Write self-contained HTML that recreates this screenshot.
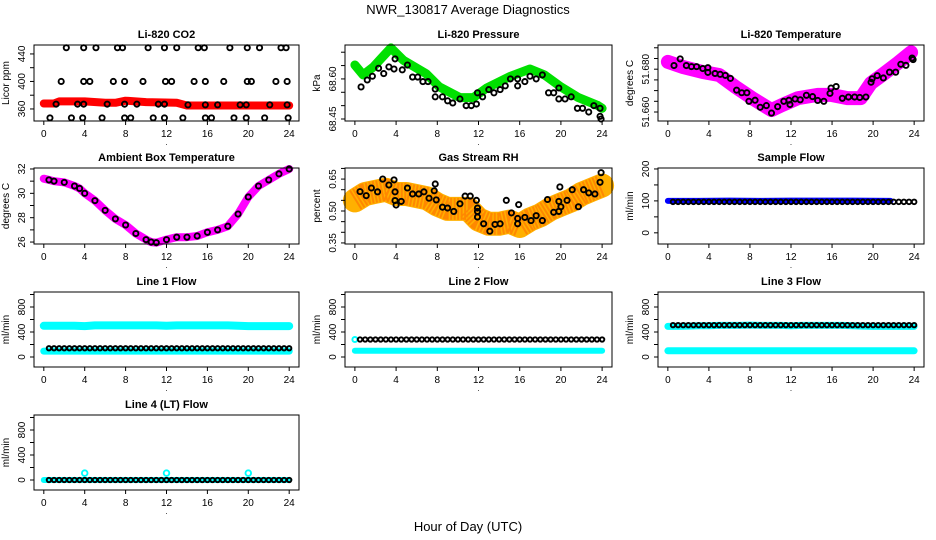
<!DOCTYPE html>
<html><head><meta charset="utf-8"><style>
html,body{margin:0;padding:0;background:#fff}
svg{display:block;font-family:"Liberation Sans",Arial,sans-serif}
</style></head><body>
<svg id="chart" width="936" height="540" xmlns="http://www.w3.org/2000/svg">
<rect width="936" height="540" fill="#fff"/>
<text x="468" y="14" font-size="13" text-anchor="middle">NWR_130817  Average Diagnostics</text>
<text x="468" y="531" font-size="13" text-anchor="middle">Hour of Day (UTC)</text>
</svg>
<script>
// ---- data ----
const co2BandHours=[0,1,1.5,4,6,7,8,10,13,14,16,20,24];
const co2BandVals=[368,368,371,371,369,369,372,370,369,365,365,365,365];
const co2PtHours=[2.2,3.9,5.1,7.2,7.7,10.2,11.8,13,15.1,15.7,18.2,19.9,21.1,23.2,23.7,1.7,3.9,4.5,6.8,7.9,9.7,11.9,12.5,14.7,15.8,17.6,19.9,20.3,22.7,23.8,1.2,3.3,3.9,6.2,7.9,9.1,11.2,11.8,14.1,15.8,17.0,19.2,19.8,22.1,23.8,0.6,2.7,3.8,5.7,7.9,8.5,10.7,11.8,13.6,15.8,16.4,18.6,19.8,21.6,23.9];
const co2PtVals=[449,449,449,449,449,449,449,449,449,449,449,449,449,449,449,400,400,400,400,400,400,400,400,400,400,400,400,400,400,400,367,367,367,367,367,367,367,367,366,366,366,366,366,366,366,347,347,347,347,347,347,347,347,347,347,347,347,347,347,347];

const presBandHours=[0,0.8,1.8,3.5,4.7,6.9,8.2,10.2,11.5,12.8,15.1,17,18.4,20,21.7,23.6,24];
const presBandVals=[68.652,68.615,68.645,68.716,68.67,68.62,68.57,68.53,68.53,68.566,68.61,68.637,68.615,68.57,68.53,68.5,68.49];
const presPtHours=[0.6,1.2,1.7,2.3,2.8,3.3,3.8,3.9,4.6,5.1,5.6,6.1,6.6,7.1,7.8,7.8,8.5,9.0,9.5,10.2,10.8,11.3,11.8,11.9,12.4,13.0,13.5,14.1,14.6,15.1,15.8,15.8,16.5,17.0,17.6,18.2,18.8,19.3,19.8,19.8,20.4,21.0,21.6,22.1,22.7,23.2,23.8,23.8,23.9];
const presPtVals=[68.57,68.596,68.61,68.64,68.62,68.645,68.637,68.675,68.634,68.652,68.607,68.607,68.59,68.59,68.562,68.533,68.533,68.518,68.51,68.525,68.5,68.5,68.506,68.548,68.533,68.56,68.548,68.56,68.574,68.6,68.6,68.574,68.59,68.61,68.6,68.615,68.548,68.548,68.566,68.525,68.525,68.533,68.49,68.49,68.476,68.5,68.49,68.46,68.45];

const tempBandHours=[0,1.5,3.4,5,6.6,8.2,10.1,11.1,12.7,14.6,15.9,17.5,18.8,19.8,21.1,22.4,23.7];
const tempBandVals=[51.6834,51.681,51.6787,51.6773,51.6717,51.6665,51.6609,51.6632,51.6665,51.668,51.668,51.6665,51.6665,51.6735,51.6781,51.6828,51.6879];
const tempPtHours=[0.6,1.2,1.8,2.3,2.8,3.4,3.9,3.9,4.6,5.1,5.6,6.1,6.7,7.2,7.7,7.9,8.5,9.0,9.6,10.1,10.7,11.3,11.8,11.9,12.4,12.9,13.5,14.1,14.6,15.2,15.8,15.9,16.4,17.0,17.6,18.2,18.7,19.3,19.8,19.9,20.4,21.0,21.6,22.2,22.7,23.2,23.8,23.9];
const tempPtVals=[51.6817,51.6848,51.6817,51.6812,51.6812,51.6803,51.6807,51.6785,51.6780,51.6776,51.6771,51.6757,51.6702,51.6690,51.6690,51.6650,51.6655,51.6622,51.6630,51.6595,51.6625,51.6650,51.6655,51.6635,51.6661,51.6657,51.6678,51.6672,51.6654,51.6650,51.6687,51.6712,51.6719,51.6664,51.6670,51.6670,51.6668,51.6670,51.6739,51.6755,51.6770,51.6759,51.6786,51.6786,51.6823,51.6818,51.6852,51.6845];

const ambHours=[0,0.5,1,2,3,3.5,4,5,6,7,8,9,10,10.5,11,12,13,14,15,16,17,18,19,20,21,22,23,24];
const ambVals=[31.2,31.1,31.0,30.9,30.6,30.4,30.0,29.4,28.6,27.9,27.4,26.7,26.2,26.0,25.95,26.2,26.4,26.4,26.5,26.8,27.0,27.3,28.3,29.7,30.6,31.1,31.6,32.0];

const rhBandHours=[0,1,2,3,4,5,6,7,8,9,10,11,12,13,14,15,16,17,18,19,20,21,22,23,24];
const rhBandVals=[0.55,0.58,0.59,0.6,0.58,0.58,0.57,0.56,0.53,0.51,0.51,0.51,0.46,0.44,0.44,0.45,0.43,0.46,0.48,0.51,0.53,0.55,0.58,0.6,0.62];
const rhPtHours=[0.5,1.1,1.6,2.2,2.7,3.3,3.8,3.9,3.9,4.0,4.5,5.1,5.6,6.2,6.7,7.2,7.8,7.7,7.9,8.5,9.0,9.6,10.2,10.7,11.2,11.8,11.9,11.9,11.9,12.5,13.1,13.6,14.1,14.7,15.2,15.8,15.8,15.9,16.5,17.1,17.6,18.2,18.7,19.3,19.8,19.9,20.0,19.8,20.6,21.1,21.7,22.2,22.7,23.3,23.8,23.9];
const rhPtVals=[0.591,0.572,0.608,0.59,0.65,0.622,0.646,0.59,0.549,0.528,0.545,0.608,0.58,0.58,0.59,0.56,0.627,0.595,0.552,0.518,0.514,0.498,0.534,0.57,0.57,0.55,0.514,0.498,0.472,0.44,0.405,0.437,0.44,0.55,0.491,0.465,0.44,0.53,0.47,0.455,0.478,0.455,0.554,0.494,0.545,0.613,0.52,0.498,0.55,0.6,0.52,0.6,0.585,0.58,0.635,0.68];

const sampBlueHours=[0,3,6,9,12,15,18,21.7];
const sampBlueVals=[100,100,101,100,101,101,101,100];
const sampBlackVals=Array(48).fill(97);

const line1CyanHigh=[500,500,500,500,495,505,505,505,505,505,505,505,500,505,505,505,505,505,505,500,495,495,495,495,495];
const line1CyanLow=Array(25).fill(95);
const line1Black=Array(48).fill(140);
const line2CyanLow=Array(25).fill(100);
const line2Black=Array(48).fill(280);
const line3CyanHigh=[490,490,495,500,500,505,505,505,510,505,505,505,500,505,505,505,505,505,500,495,490,490,490,490,490];
const line3CyanLow=Array(25).fill(100);
const line3Black=Array(48).fill(510);
const line4CyanLow=Array(25).fill(0);
const line4Black=Array(48).fill(0);
const line4CyanSpikeHours=[4,12,20];
const line4CyanSpikeVals=[110,110,110];

const xTicks=[0,4,8,12,16,20,24];
const halfHours=Array.from({length:48},(_,i)=>0.5*(i+1));
const wholeHours=Array.from({length:25},(_,i)=>i);

// ---- layout ----
const NS="http://www.w3.org/2000/svg";
const svg=document.getElementById('chart');
const COLS=[[34,299],[345,612],[658,924]];
const ROWS=[[45,121],[168,244],[292,367],[415,490]];
function mk(tag,attrs,parent){const e=document.createElementNS(NS,tag);for(const k in attrs)e.setAttribute(k,attrs[k]);(parent||svg).appendChild(e);return e;}

function panel(c,r,o){
  const [x0,x1]=COLS[c],[y0,y1]=ROWS[r];
  const g=mk('g',{});
  
  
  const sx=h=>x0+(h+0.96)/25.92*(x1-x0);
  const sy=v=>y1-(v-o.ymin)/(o.ymax-o.ymin)*(y1-y0);
  const t=mk('text',{x:(x0+x1)/2,y:y0-7,'font-size':11,'font-weight':'bold','text-anchor':'middle'},g);
  t.textContent=o.title;
  
  
  const yl=mk('text',{x:0,y:0,'font-size':10,'text-anchor':'middle',transform:`translate(${x0-25},${(y0+y1)/2}) rotate(-90)`},g);
  yl.textContent=o.ylab;
  
  
  const plot=mk('g',{},g);
  const box=mk('rect',{x:x0,y:y0,width:x1-x0,height:y1-y0,fill:'none',stroke:'#000','stroke-width':1},g);
  
  
  for(const h of xTicks){
    const X=sx(h);
    mk('line',{x1:X,x2:X,y1:y1,y2:y1+4,stroke:'#000'},g);
    const tl=mk('text',{x:X,y:y1+16,'font-size':10,'text-anchor':'middle'},g);
    tl.textContent=h;
    
    
  }
  const dot=mk('text',{x:(x0+x1)/2,y:y1+24,'font-size':8,'text-anchor':'middle'},g);dot.textContent='.';
  for(let i=0;i<o.ticks.length;i++){
    const Y=sy(o.ticks[i]);
    mk('line',{x1:x0-4,x2:x0,y1:Y,y2:Y,stroke:'#000'},g);
    if(o.labels[i]!==''){
      const tl=mk('text',{x:0,y:0,'font-size':10,'text-anchor':'middle',transform:`translate(${x0-9},${Y}) rotate(-90)`},g);
      tl.textContent=o.labels[i];
      
      
    }
  }
  return {plot,sx,sy};
}
function band(p,hours,vals,color,w,name,extra){
  const d=hours.map((h,i)=>(i?'L':'M')+p.sx(h).toFixed(1)+','+p.sy(vals[i]).toFixed(1)).join('');
  const e=mk('path',Object.assign({d,fill:'none',stroke:color,'stroke-width':w,'stroke-linejoin':'round','stroke-linecap':'round'},extra||{}),p.plot);
  
  
}
function pts(p,hours,vals,color,name,r){
  const g=mk('g',{},p.plot);
  
  
  hours.forEach((h,i)=>{
    const c=mk('circle',{cx:p.sx(h),cy:p.sy(vals[i]),r:r||2.6,fill:'none',stroke:color,'stroke-width':1.9},g);
    
    
  });
}
const flowTicks=[0,200,400,600,800,1000],flowLabels=['0','','400','','800',''];

let p;
p=panel(0,0,{name:'panel-co2',title:'Li-820 CO2',ylab:'Licor ppm',ymin:342.5,ymax:453,ticks:[360,380,400,420,440],labels:['360','','400','','440']});
band(p,co2BandHours,co2BandVals,'#f00',8,'co2-band');
pts(p,co2PtHours,co2PtVals,'#000','co2-points');

p=panel(1,0,{name:'panel-pressure',title:'Li-820 Pressure',ylab:'kPa',ymin:68.4425,ymax:68.727,ticks:[68.45,68.5,68.55,68.6,68.65,68.7],labels:['68.45','','','68.60','','']});
band(p,presBandHours,presBandVals,'#00e000',9,'pressure-band');
pts(p,presPtHours,presPtVals,'#000','pressure-points');

p=panel(2,0,{name:'panel-temperature',title:'Li-820 Temperature',ylab:'degrees C',ymin:51.6558,ymax:51.6913,ticks:[51.66,51.665,51.67,51.675,51.68,51.685,51.69],labels:['51.660','','','','51.680','','']});
band(p,tempBandHours,tempBandVals,'#ff00ff',14,'temperature-band');
pts(p,tempPtHours,tempPtVals,'#000','temperature-points');

p=panel(0,1,{name:'panel-ambient',title:'Ambient Box Temperature',ylab:'degrees C',ymin:25.84,ymax:32.08,ticks:[26,27,28,29,30,31,32],labels:['26','','28','','30','','32']});
band(p,ambHours,ambVals,'#ff00ff',8,'ambient-band');
pts(p,ambHours.slice(1),ambVals.slice(1),'#000','ambient-points');

p=panel(1,1,{name:'panel-rh',title:'Gas Stream RH',ylab:'percent',ymin:0.345,ymax:0.702,ticks:[0.35,0.4,0.45,0.5,0.55,0.6,0.65,0.7],labels:['0.35','','','0.50','','','0.65','']});
band(p,rhBandHours,rhBandVals,'#ffb000',24,'rh-band');
band(p,rhBandHours,rhBandVals,'#ff8800',22,'rh-band-dots',{'stroke-dasharray':'2,1.5','stroke-linecap':'butt'});
pts(p,rhPtHours,rhPtVals,'#000','rh-points');

p=panel(2,1,{name:'panel-sample-flow',title:'Sample Flow',ylab:'ml/min',ymin:-35,ymax:203,ticks:[0,50,100,150,200],labels:['0','','100','','200']});
band(p,sampBlueHours,sampBlueVals,'#0000ff',6,'sample-blue-band');
pts(p,halfHours,sampBlackVals,'#000','sample-points',2.3);

p=panel(0,2,{name:'panel-line1',title:'Line 1 Flow',ylab:'ml/min',ymin:-160,ymax:1040,ticks:flowTicks,labels:flowLabels});
band(p,wholeHours,line1CyanHigh,'#00ffff',8,'line1-cyan-high');
band(p,wholeHours,line1CyanLow,'#00ffff',7,'line1-cyan-low');
pts(p,halfHours,line1Black,'#000','line1-points',2.2);

p=panel(1,2,{name:'panel-line2',title:'Line 2 Flow',ylab:'ml/min',ymin:-160,ymax:1040,ticks:flowTicks,labels:flowLabels});
band(p,wholeHours,line2CyanLow,'#00ffff',6,'line2-cyan-low');
pts(p,[0],[280],'#00ffff','line2-cyan-start',2.5);
pts(p,halfHours,line2Black,'#000','line2-points',2.2);

p=panel(2,2,{name:'panel-line3',title:'Line 3 Flow',ylab:'ml/min',ymin:-160,ymax:1040,ticks:flowTicks,labels:flowLabels});
band(p,wholeHours,line3CyanHigh,'#00ffff',7,'line3-cyan-high');
band(p,wholeHours,line3CyanLow,'#00ffff',7,'line3-cyan-low');
pts(p,halfHours,line3Black,'#000','line3-points',2.2);

p=panel(0,3,{name:'panel-line4',title:'Line 4 (LT) Flow',ylab:'ml/min',ymin:-160,ymax:1040,ticks:flowTicks,labels:flowLabels});
band(p,wholeHours,line4CyanLow,'#00ffff',6,'line4-cyan-low');
pts(p,line4CyanSpikeHours,line4CyanSpikeVals,'#00ffff','line4-cyan-spikes',2.8);
pts(p,halfHours,line4Black,'#000','line4-points',2.2);
</script>
</body></html>
